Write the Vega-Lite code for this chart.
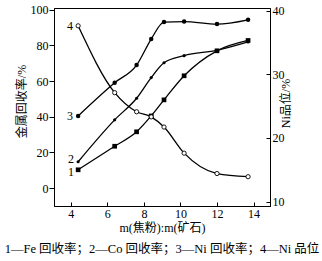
{
  "$schema": "https://vega.github.io/schema/vega-lite/v6.json",
  "width": 216,
  "height": 198,
  "autosize": {"type": "none"},
  "padding": {"left": 54, "top": 8, "right": 52, "bottom": 55},
  "background": "white",
  "config": {
    "view": {"stroke": "black", "strokeWidth": 1},
    "font": "Liberation Serif, Noto Sans CJK SC",
    "axis": {"domainColor": "black", "tickColor": "black", "labelColor": "black", "titleColor": "black", "labelFontSize": 12, "titleFontSize": 12, "titleFontWeight": "normal", "grid": false, "labelFont": "Liberation Serif", "titleFont": "Liberation Serif, Noto Sans CJK SC"}
  },
  "title": {"text": "1—Fe 回收率；2—Co 回收率；3—Ni 回收率；4—Ni 品位", "orient": "bottom", "anchor": "middle", "fontSize": 12.5, "fontWeight": "normal", "font": "Liberation Serif, Noto Sans CJK SC", "offset": 10, "color": "black"},
  "data": {"values": [
    {"r": 4.4, "s": "1", "v": 10.3}, {"r": 6.4, "s": "1", "v": 23.5}, {"r": 7.6, "s": "1", "v": 31.6}, {"r": 8.4, "s": "1", "v": 40.5}, {"r": 9.1, "s": "1", "v": 49.5}, {"r": 10.2, "s": "1", "v": 63.0}, {"r": 12.0, "s": "1", "v": 77.0}, {"r": 13.7, "s": "1", "v": 82.8},
    {"r": 4.4, "s": "2", "v": 14.8}, {"r": 6.4, "s": "2", "v": 38.3}, {"r": 7.6, "s": "2", "v": 50.4}, {"r": 8.4, "s": "2", "v": 62.0}, {"r": 9.1, "s": "2", "v": 70.3}, {"r": 10.2, "s": "2", "v": 74.3}, {"r": 12.0, "s": "2", "v": 77.3}, {"r": 13.7, "s": "2", "v": 82.0},
    {"r": 4.4, "s": "3", "v": 40.5}, {"r": 6.4, "s": "3", "v": 59.1}, {"r": 7.6, "s": "3", "v": 69.0}, {"r": 8.4, "s": "3", "v": 83.6}, {"r": 9.1, "s": "3", "v": 93.1}, {"r": 10.2, "s": "3", "v": 93.4}, {"r": 12.0, "s": "3", "v": 92.0}, {"r": 13.7, "s": "3", "v": 94.4},
    {"r": 4.4, "s": "4", "v": 37.6}, {"r": 6.4, "s": "4", "v": 27.1}, {"r": 7.6, "s": "4", "v": 24.1}, {"r": 8.4, "s": "4", "v": 23.3}, {"r": 9.1, "s": "4", "v": 21.7}, {"r": 10.2, "s": "4", "v": 17.6}, {"r": 12.0, "s": "4", "v": 14.4}, {"r": 13.7, "s": "4", "v": 13.9}
  ]},
  "encoding": {
    "x": {"field": "r", "type": "quantitative", "scale": {"domain": [3.08, 14.9], "nice": false, "zero": false},
      "axis": {"values": [4, 6, 8, 10, 12, 14], "title": "m(焦粉):m(矿石)", "tickSize": -4, "labelPadding": 6, "titlePadding": 3}}
  },
  "layer": [
    {
      "transform": [{"filter": "datum.s != '4'"}],
      "encoding": {
        "y": {"field": "v", "type": "quantitative", "scale": {"domain": [-10, 101], "nice": false, "zero": false},
          "axis": {"orient": "left", "values": [0, 20, 40, 60, 80, 100], "title": "金属回收率/%", "tickSize": 5, "labelPadding": 1, "titlePadding": 2, "titleY": 93}}
      },
      "layer": [
        {"mark": {"type": "line", "color": "black", "strokeWidth": 1.3, "interpolate": "monotone"}, "encoding": {"detail": {"field": "s"}}},
        {"mark": {"type": "point", "filled": true, "color": "black", "opacity": 1},
          "encoding": {
            "shape": {"field": "s", "scale": {"domain": ["1", "2", "3"], "range": ["square", "circle", "circle"]}, "legend": null},
            "size": {"field": "s", "scale": {"type": "ordinal", "domain": ["1", "2", "3"], "range": [22, 10, 20]}, "legend": null}
          }},
        {"transform": [{"filter": "datum.r == 4.4 && datum.s == '3'"}], "mark": {"type": "text", "dx": -8, "fontSize": 12, "color": "black", "font": "Liberation Serif"}, "encoding": {"text": {"field": "s"}}},
        {"transform": [{"filter": "datum.r == 4.4 && datum.s == '2'"}], "mark": {"type": "text", "dx": -7, "dy": -3, "fontSize": 12, "color": "black", "font": "Liberation Serif"}, "encoding": {"text": {"field": "s"}}},
        {"transform": [{"filter": "datum.r == 4.4 && datum.s == '1'"}], "mark": {"type": "text", "dx": -7, "dy": 2, "fontSize": 12, "color": "black", "font": "Liberation Serif"}, "encoding": {"text": {"field": "s"}}}
      ]
    },
    {
      "transform": [{"filter": "datum.s == '4'"}],
      "encoding": {
        "y": {"field": "v", "type": "quantitative", "scale": {"domain": [9.3, 40.4], "nice": false, "zero": false},
          "axis": {"orient": "right", "values": [10, 20, 30, 40], "title": "Ni品位/%", "titleAngle": 270, "tickSize": -4, "labelPadding": 6, "titlePadding": 8, "titleY": 95}}
      },
      "layer": [
        {"mark": {"type": "line", "color": "black", "strokeWidth": 1.3, "interpolate": "monotone"}, "encoding": {}},
        {"mark": {"type": "point", "filled": false, "fill": "white", "stroke": "black", "strokeWidth": 0.9, "size": 18, "opacity": 1}, "encoding": {}},
        {"transform": [{"filter": "datum.r == 4.4"}], "mark": {"type": "text", "dx": -8, "fontSize": 12, "color": "black", "font": "Liberation Serif"}, "encoding": {"text": {"field": "s"}}}
      ]
    }
  ],
  "resolve": {"scale": {"y": "independent"}}
}
